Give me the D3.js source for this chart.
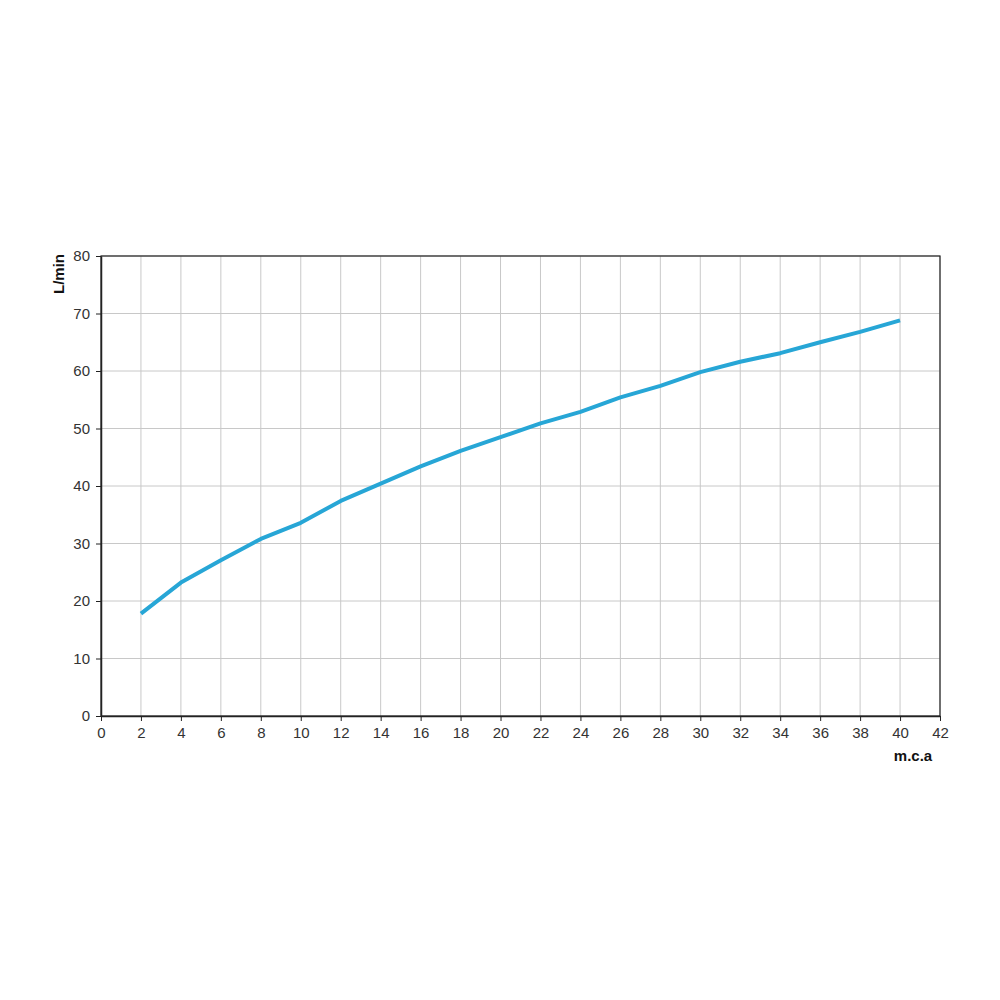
<!DOCTYPE html>
<html><head><meta charset="utf-8">
<script src="https://cdn.jsdelivr.net/npm/d3@7"></script>
<style>body{margin:0;background:#fff}</style>
</head><body>
<svg id="c" width="1000" height="1000"></svg>
<script>
const pressure = [2,4,6,8,10,12,14,16,18,20,22,24,26,28,30,32,34,36,38,40];
const flow = [17.8,23.2,27.1,30.8,33.6,37.4,40.4,43.4,46.1,48.5,50.9,52.9,55.4,57.4,59.8,61.6,63.1,65.0,66.8,68.8];
const xTicks = d3.range(0,43,2);
const yTicks = d3.range(0,81,10);
const xLabel = "m.c.a";
const yLabel = "L/min";

const svg = d3.select("#c");
const m = {l:101, r:940, t:256, b:716};
const x = d3.scaleLinear().domain([0,42]).range([m.l,m.r]);
const y = d3.scaleLinear().domain([0,80]).range([m.b,m.t]);

svg.append("g").selectAll("line").data(xTicks.slice(1)).join("line")
  .attr("x1",d=>x(d)).attr("x2",d=>x(d)).attr("y1",m.t).attr("y2",m.b)
  .attr("stroke","#c8c8c8").attr("stroke-width",1);
svg.append("g").selectAll("line").data(yTicks.slice(1)).join("line")
  .attr("x1",m.l).attr("x2",m.r).attr("y1",d=>y(d)).attr("y2",d=>y(d))
  .attr("stroke","#c8c8c8").attr("stroke-width",1);

svg.append("rect").attr("x",m.l).attr("y",m.t).attr("width",m.r-m.l).attr("height",m.b-m.t)
  .attr("fill","none").attr("stroke","#222").attr("stroke-width",1.2);

const xa = svg.append("g").attr("transform",`translate(0,${m.b})`)
  .call(d3.axisBottom(x).tickValues(xTicks).tickSize(5).tickSizeOuter(0).tickPadding(6));
const ya = svg.append("g").attr("transform",`translate(${m.l},0)`)
  .call(d3.axisLeft(y).tickValues(yTicks).tickSize(5).tickSizeOuter(0).tickPadding(6));
[xa,ya].forEach(a=>{
  a.select(".domain").attr("stroke","#222").attr("stroke-width",1.5);
  a.selectAll(".tick line").attr("stroke","#222");
  a.selectAll("text").attr("font-family","Liberation Sans, Arial, sans-serif").attr("font-size",15).attr("fill","#333");
});

svg.append("path").datum(pressure.map((p,i)=>[p,flow[i]]))
  .attr("d", d3.line().x(d=>x(d[0])).y(d=>y(d[1])))
  .attr("fill","none").attr("stroke","#27a6d6").attr("stroke-width",4)
  .attr("stroke-linejoin","round").attr("stroke-linecap","butt");

svg.append("text").attr("x",913).attr("y",761).attr("text-anchor","middle")
  .attr("font-family","Liberation Sans, Arial, sans-serif").attr("font-weight","bold").attr("font-size",15).attr("fill","#111").text(xLabel);
svg.append("text").attr("transform","translate(64,274) rotate(-90)").attr("text-anchor","middle")
  .attr("font-family","Liberation Sans, Arial, sans-serif").attr("font-weight","bold").attr("font-size",15).attr("fill","#111").text(yLabel);
</script>
</body></html>
